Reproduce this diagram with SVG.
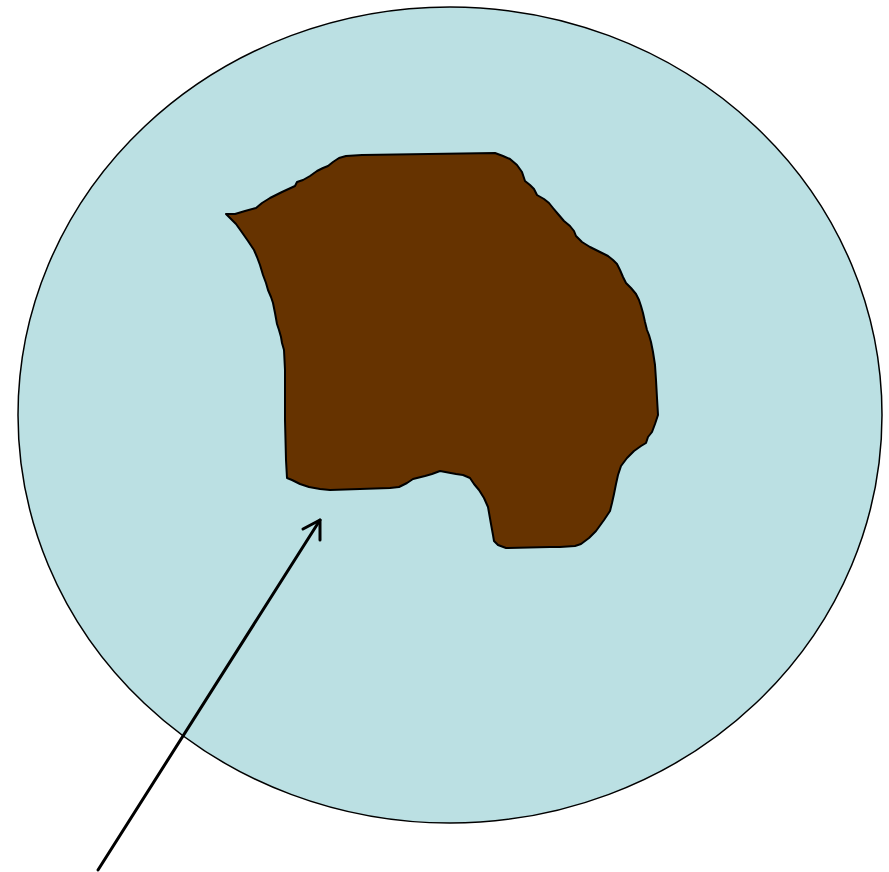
<svg xmlns="http://www.w3.org/2000/svg" width="889" height="872" viewBox="0 0 889 872">
<style>
.cell{fill:#BBE0E3;stroke:#000;stroke-width:1.5}
.blob{fill:#663300;stroke:#000;stroke-width:2;stroke-linejoin:round}
.conn{fill:none;stroke:#000;stroke-width:3;stroke-linecap:round;stroke-linejoin:round}
</style>
<rect width="889" height="872" fill="#fff"/>
<g id="cell">
<ellipse class="cell" cx="450" cy="415" rx="432" ry="408"/>
</g>
<g id="nucleus">
<path class="blob" d="M226,214 L235,214 L245,211 L256,208 L262,203 L270,198 L282,192 L295,186 L297,182 L303,180 L310,176 L317,171 L323,168 L328,166 L333,162 L339,158 L346,156 L362,155 L495,153 L503,156 L510,159 L517,165 L522,172 L525,181 L530,185 L534,189 L537,195 L544,199 L549,203 L553,208 L558,214 L564,221 L570,226 L574,231 L576,236 L582,242 L590,247 L600,252 L608,256 L613,260 L617,264 L620,270 L623,277 L626,283 L631,288 L636,294 L639,300 L641,306 L643,313 L645,322 L647,330 L649,335 L651,342 L653,352 L655,365 L656,380 L657,398 L658,415 L655,424 L652,432 L648,437 L646,443 L641,446 L634,451 L627,458 L621,466 L618,475 L616,484 L614,494 L612,503 L610,511 L604,520 L596,531 L589,538 L581,544 L575,546 L560,547 L550,547 L506,548 L498,545 L494,541 L493,535 L491,524 L488,507 L484,498 L479,490 L474,484 L470,478 L463,475 L456,474 L440,471 L432,474 L425,476 L417,478 L413,479 L407,483 L399,487 L390,488 L330,490 L320,489 L309,487 L300,484 L292,480 L287,478 L286,460 L285,420 L285,370 L284,350 L282,343 L281,337 L279,330 L277,324 L275,313 L273,303 L271,297 L268,290 L266,283 L263,275 L260,265 L257,257 L254,250 L248,241 L241,231 L236,224 L229,217 Z"/>
</g>
<g id="connectors">
<path class="conn" d="M98,870 L320,520"/>
<path class="conn" d="M303,529 L320,520 L320,540"/>
</g>
</svg>
